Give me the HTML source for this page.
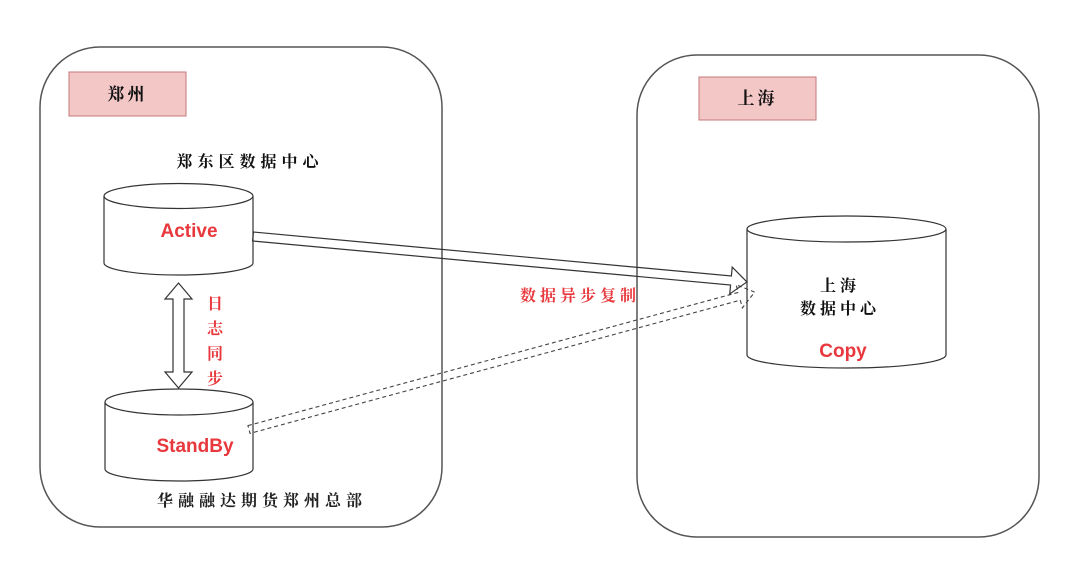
<!DOCTYPE html>
<html>
<head>
<meta charset="utf-8">
<style>
  html,body{margin:0;padding:0;background:#fff;}
  svg{display:block;}
  .cn{font-family:"Liberation Serif","Noto Serif CJK SC",serif;font-weight:700;}
  .en{font-family:"Liberation Sans","Noto Sans CJK SC",sans-serif;font-weight:700;fill:#e8383d;}
</style>
</head>
<body>
<svg width="1080" height="570" viewBox="0 0 1080 570" xmlns="http://www.w3.org/2000/svg">
  <rect x="0" y="0" width="1080" height="570" fill="#fff"/>
  <!-- containers -->
  <rect x="40" y="47" width="402" height="480" rx="60" ry="60" fill="none" stroke="#555" stroke-width="1.5"/>
  <rect x="637" y="55" width="402" height="482" rx="60" ry="60" fill="none" stroke="#555" stroke-width="1.5"/>

  <!-- location labels -->
  <rect x="69" y="72" width="117" height="44" fill="#f4c7c7" stroke="#c57a7a" stroke-width="1"/>
  <text x="127.5" y="100" class="cn" font-size="17" text-anchor="middle" fill="#111" letter-spacing="3">郑州</text>
  <rect x="699" y="77" width="117" height="43" fill="#f4c7c7" stroke="#c57a7a" stroke-width="1"/>
  <text x="757.5" y="104" class="cn" font-size="17" text-anchor="middle" fill="#111" letter-spacing="3">上海</text>

  <!-- captions -->
  <text x="250" y="167" class="cn" font-size="16" text-anchor="middle" fill="#111" letter-spacing="5">郑东区数据中心</text>
  <text x="262" y="506" class="cn" font-size="16" text-anchor="middle" fill="#222" letter-spacing="5">华融融达期货郑州总部</text>

  <!-- Active cylinder -->
  <path d="M104,196 L104,263 A74.5,12 0 0 0 253,263 L253,196" fill="#fff" stroke="#333" stroke-width="1.2"/>
  <ellipse cx="178.5" cy="196" rx="74.5" ry="12.5" fill="#fff" stroke="#333" stroke-width="1.2"/>
  <text x="189" y="237" class="en" font-size="19" text-anchor="middle">Active</text>

  <!-- StandBy cylinder -->
  <path d="M105,402 L105,469 A74,12 0 0 0 253,469 L253,402" fill="#fff" stroke="#333" stroke-width="1.2"/>
  <ellipse cx="179" cy="402" rx="74" ry="13" fill="#fff" stroke="#333" stroke-width="1.2"/>
  <text x="195" y="452" class="en" font-size="19" text-anchor="middle">StandBy</text>

  <!-- Copy cylinder -->
  <path d="M747,229 L747,355 A99.5,13 0 0 0 946,355 L946,229" fill="#fff" stroke="#333" stroke-width="1.2"/>
  <ellipse cx="846.5" cy="229" rx="99.5" ry="13" fill="#fff" stroke="#333" stroke-width="1.2"/>
  <text x="840" y="291" class="cn" font-size="16" text-anchor="middle" fill="#111" letter-spacing="4">上海</text>
  <text x="840" y="314" class="cn" font-size="16" text-anchor="middle" fill="#111" letter-spacing="4">数据中心</text>
  <text x="843" y="357" class="en" font-size="19" text-anchor="middle">Copy</text>

  <!-- vertical double arrow -->
  <polygon points="178.5,283 192,299 184,299 184,372 192,372 178.5,388 165,372 173,372 173,299 165,299" fill="#fff" stroke="#333" stroke-width="1.2" stroke-linejoin="miter"/>
  <g class="cn" font-size="16" fill="#e8383d" text-anchor="middle">
    <text x="215" y="309">日</text>
    <text x="215" y="334">志</text>
    <text x="215" y="359">同</text>
    <text x="215" y="384">步</text>
  </g>

  <!-- dashed arrow StandBy -> Copy -->
  <g transform="translate(249,429.5) rotate(-15.2)">
    <polygon points="0,-4 508,-4 508,-12 524,0 508,12 508,4 0,4" fill="none" stroke="#444" stroke-width="1.1" stroke-dasharray="4,3"/>
  </g>

  <!-- solid hollow arrow Active -> Copy -->
  <g transform="translate(253,236.5) rotate(5.26)">
    <polygon points="0,-4.5 480,-4.5 480,-13.5 496,0 480,13.5 480,4.5 0,4.5" fill="none" stroke="#333" stroke-width="1.2"/>
  </g>

  <text x="580" y="301" class="cn" font-size="16" text-anchor="middle" fill="#e8383d" letter-spacing="4">数据异步复制</text>
</svg>
</body>
</html>
